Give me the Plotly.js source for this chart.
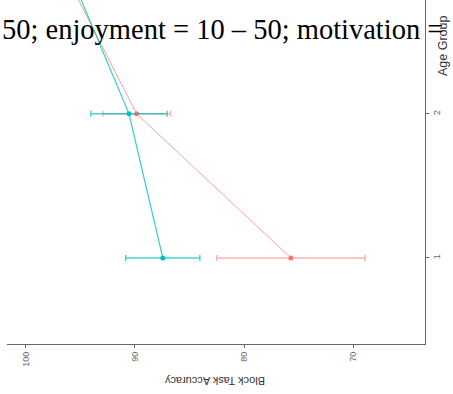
<!DOCTYPE html>
<html>
<head>
<meta charset="utf-8">
<script src="https://cdn.plot.ly/plotly-3.0.1.min.js"></script>
<style>html,body{margin:0;padding:0;background:#fff;}#chart{width:453px;height:394px;}</style>
</head>
<body>
<div id="chart"></div>
<script>
// Data
var ageGroups = [1, 2, 3];
var tealAccuracy = [87.45, 90.55, 96.1];
var tealError = [3.4, 3.5, 2.5];
var redAccuracy = [75.7, 89.85, 96.6];
var redError = [6.8, 3.1, 2.5];
var accuracyTicks = [100, 90, 80, 70];
var groupTicks = [1, 2];
var overlayText = "50; enjoyment = 10 \u2013 50; motivation =";

var W = 453, H = 394, L = 7, R = 28, T = 0, B = 50;
var pw = W - L - R, ph = H - T - B;
function px(x) { return (x - L) / pw; }
function py(y) { return (H - B - y) / ph; }

var red = {
  x: redAccuracy, y: ageGroups, type: 'scatter', mode: 'lines+markers',
  line: {color: 'rgba(248,118,109,0.7)', width: 1},
  marker: {color: '#F8766D', size: 5},
  error_x: {type: 'data', array: redError, visible: true, color: 'rgba(248,118,109,0.55)', thickness: 1.5, width: 3},
  showlegend: false, hoverinfo: 'none'
};
var teal = {
  x: tealAccuracy, y: ageGroups, type: 'scatter', mode: 'lines+markers',
  line: {color: 'rgba(0,191,196,0.8)', width: 1.2},
  marker: {color: '#00BFC4', size: 5},
  error_x: {type: 'data', array: tealError, visible: true, color: 'rgba(0,191,196,0.7)', thickness: 1.5, width: 3},
  showlegend: false, hoverinfo: 'none'
};

var layout = {
  width: W, height: H,
  margin: {l: L, r: R, t: T, b: B, pad: 0},
  paper_bgcolor: '#fff', plot_bgcolor: '#fff',
  font: {family: 'Liberation Sans, Arial, sans-serif', color: '#555'},
  xaxis: {
    range: [101.74, 63.4], tickvals: accuracyTicks, ticktext: accuracyTicks.map(String),
    tickangle: -90, showgrid: false, zeroline: false,
    showline: true, linecolor: '#666', linewidth: 1.2,
    ticks: 'outside', ticklen: 3, tickcolor: '#666', tickwidth: 1,
    tickfont: {size: 9, color: '#666'}
  },
  yaxis: {
    range: [0.403, 2.79], tickvals: groupTicks, ticktext: groupTicks.map(String),
    side: 'right', tickangle: -90, showgrid: false, zeroline: false,
    showline: true, linecolor: '#666', linewidth: 1.2,
    ticks: 'outside', ticklen: 3, tickcolor: '#666', tickwidth: 1,
    tickfont: {size: 9, color: '#666'}
  },
  annotations: [
    {text: 'Block Task Accuracy', xref: 'paper', yref: 'paper', x: px(215), y: py(381),
     xanchor: 'center', yanchor: 'middle', textangle: 180, showarrow: false,
     font: {size: 11, color: '#333', family: 'Liberation Sans, Arial, sans-serif'}},
    {text: 'Age Group', xref: 'paper', yref: 'paper', x: px(443), y: py(45),
     xanchor: 'center', yanchor: 'middle', textangle: -90, showarrow: false,
     font: {size: 12.5, color: '#333', family: 'Liberation Sans, Arial, sans-serif'}},
    {text: overlayText, xref: 'paper', yref: 'paper', x: px(0), y: py(29),
     xanchor: 'left', yanchor: 'middle', showarrow: false,
     font: {size: 28.5, color: '#000', family: 'Liberation Serif, Times New Roman, serif'}}
  ]
};

Plotly.newPlot('chart', [red, teal], layout, {staticPlot: true, displayModeBar: false});
</script>
</body>
</html>
